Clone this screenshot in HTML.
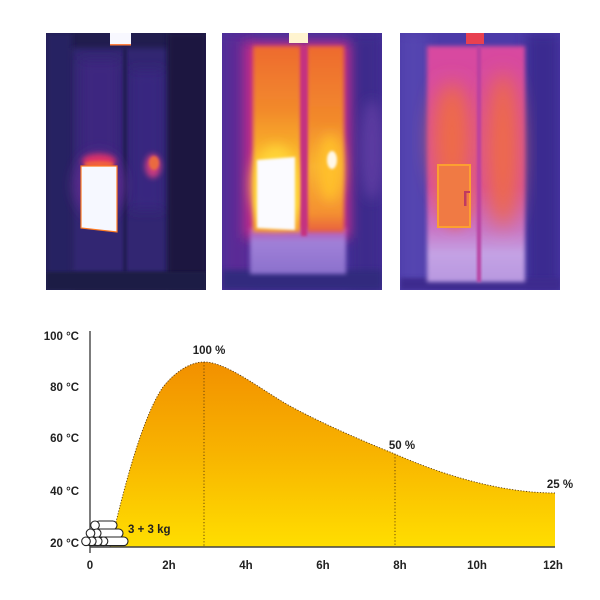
<!DOCTYPE html>
<html><head><meta charset="utf-8"><style>
html,body{margin:0;padding:0;background:#fff;width:600px;height:600px;overflow:hidden}
svg{display:block}
text{font-family:"Liberation Sans",Arial,sans-serif;font-weight:bold;fill:#222;font-size:11.5px}
</style></head><body>
<svg width="600" height="600" viewBox="0 0 600 600" xmlns="http://www.w3.org/2000/svg">
<defs>
  <filter id="b1" x="-50%" y="-50%" width="200%" height="200%"><feGaussianBlur stdDeviation="1.2"/></filter>
  <filter id="b2" x="-50%" y="-50%" width="200%" height="200%"><feGaussianBlur stdDeviation="2"/></filter>
  <filter id="b3" x="-50%" y="-50%" width="200%" height="200%"><feGaussianBlur stdDeviation="3"/></filter>
  <filter id="b6" x="-50%" y="-50%" width="200%" height="200%"><feGaussianBlur stdDeviation="6"/></filter>
  <filter id="b10" x="-50%" y="-50%" width="200%" height="200%"><feGaussianBlur stdDeviation="10"/></filter>
  <clipPath id="c1"><rect x="46" y="33" width="160" height="257"/></clipPath>
  <clipPath id="c2"><rect x="222" y="33" width="160" height="257"/></clipPath>
  <clipPath id="c3"><rect x="400" y="33" width="160" height="257"/></clipPath>
  <linearGradient id="fillg" x1="0" y1="362" x2="0" y2="547" gradientUnits="userSpaceOnUse">
    <stop offset="0" stop-color="#f29000"/>
    <stop offset="0.5" stop-color="#f8b400"/>
    <stop offset="1" stop-color="#ffde00"/>
  </linearGradient>
  <linearGradient id="p2l" x1="0" y1="45" x2="0" y2="232" gradientUnits="userSpaceOnUse">
    <stop offset="0" stop-color="#ee6a30"/>
    <stop offset="0.35" stop-color="#f28a2c"/>
    <stop offset="0.6" stop-color="#fab82c"/>
    <stop offset="0.85" stop-color="#ffd838"/>
    <stop offset="1" stop-color="#f8a030"/>
  </linearGradient>
  <linearGradient id="p2r" x1="0" y1="45" x2="0" y2="232" gradientUnits="userSpaceOnUse">
    <stop offset="0" stop-color="#ee6a30"/>
    <stop offset="0.4" stop-color="#f28a2c"/>
    <stop offset="0.65" stop-color="#f8b030"/>
    <stop offset="0.9" stop-color="#f49030"/>
    <stop offset="1" stop-color="#e86040"/>
  </linearGradient>
  <linearGradient id="p2low" x1="0" y1="228" x2="0" y2="275" gradientUnits="userSpaceOnUse">
    <stop offset="0" stop-color="#c050b0"/>
    <stop offset="0.3" stop-color="#a080d8"/>
    <stop offset="1" stop-color="#8a70cc"/>
  </linearGradient>
  <linearGradient id="p3s" x1="0" y1="46" x2="0" y2="282" gradientUnits="userSpaceOnUse">
    <stop offset="0" stop-color="#d84aa0"/>
    <stop offset="0.6" stop-color="#d64ea4"/>
    <stop offset="0.78" stop-color="#c878c8"/>
    <stop offset="0.88" stop-color="#c4a2e4"/>
    <stop offset="1" stop-color="#b898e0"/>
  </linearGradient>
</defs>

<!-- Panel 1 -->
<g clip-path="url(#c1)">
  <rect x="46" y="33" width="160" height="257" fill="#211d4e"/>
  <rect x="46" y="33" width="26" height="257" fill="#262362" filter="url(#b3)"/>
  <rect x="72" y="48" width="96" height="225" fill="#302672" filter="url(#b3)"/>
  <rect x="80" y="60" width="40" height="120" fill="#3c2880" filter="url(#b6)"/>
  <rect x="130" y="70" width="34" height="140" fill="#382780" filter="url(#b6)"/>
  <rect x="123" y="48" width="4" height="225" fill="#241d54" filter="url(#b1)"/>
  <rect x="168" y="33" width="38" height="257" fill="#1a1840" filter="url(#b3)"/>
  <rect x="46" y="272" width="160" height="18" fill="#1c1a44" filter="url(#b1)"/>
  <ellipse cx="99" cy="185" rx="26" ry="34" fill="#5a2a8c" filter="url(#b6)"/>
  <ellipse cx="99" cy="161" rx="17" ry="7" fill="#e03068" filter="url(#b3)"/>
  <ellipse cx="99" cy="164" rx="15" ry="3" fill="#f06040" filter="url(#b1)"/>
  <ellipse cx="153" cy="166" rx="8" ry="12" fill="#c83a80" filter="url(#b3)"/>
  <ellipse cx="154" cy="163" rx="5" ry="7" fill="#ea6a40" filter="url(#b1)"/>
  <polygon points="81,166 117,166 117,232 81,228" fill="#f6f8ff" stroke="#ff7a20" stroke-width="1.2"/>
  <rect x="110" y="33" width="21" height="12" fill="#f8f8ff"/>
  <rect x="110" y="44" width="21" height="1.5" fill="#ff8040"/>
</g>

<!-- Panel 2 -->
<g clip-path="url(#c2)">
  <rect x="222" y="33" width="160" height="257" fill="#46309a"/>
  <rect x="222" y="33" width="30" height="257" fill="#5a2c96" filter="url(#b6)"/>
  <rect x="350" y="33" width="32" height="257" fill="#3c2c8c" filter="url(#b6)"/>
  <ellipse cx="372" cy="150" rx="12" ry="50" fill="#5c3aa0" filter="url(#b6)"/>
  <rect x="222" y="270" width="160" height="20" fill="#322a7e" filter="url(#b3)"/>
  <rect x="244" y="42" width="106" height="196" fill="#c82a88" filter="url(#b6)"/>
  <rect x="250" y="228" width="96" height="46" fill="url(#p2low)" filter="url(#b2)"/>
  <rect x="253" y="46" width="48" height="186" fill="url(#p2l)" filter="url(#b2)"/>
  <rect x="307" y="46" width="37" height="186" fill="url(#p2r)" filter="url(#b2)"/>
  <ellipse cx="276" cy="185" rx="24" ry="40" fill="#ffd438" filter="url(#b6)"/>
  <ellipse cx="330" cy="168" rx="12" ry="34" fill="#ffc02a" filter="url(#b6)"/>
  <ellipse cx="332" cy="160" rx="5" ry="9" fill="#fff8e8" filter="url(#b1)"/>
  <rect x="301" y="46" width="6" height="190" fill="#c43080" filter="url(#b1)"/>
  <polygon points="257,160 295,157 295,230 257,228" fill="#fbfbff" filter="url(#b1)"/>
  <rect x="289" y="33" width="19" height="10" fill="#fff4d0"/>
</g>

<!-- Panel 3 -->
<g clip-path="url(#c3)">
  <rect x="400" y="33" width="160" height="257" fill="#4c3aa8"/>
  <rect x="400" y="33" width="27" height="257" fill="#5444b0" filter="url(#b6)"/>
  <rect x="526" y="33" width="34" height="257" fill="#3a2a90" filter="url(#b6)"/>
  <rect x="400" y="278" width="160" height="12" fill="#3c2c8e" filter="url(#b2)"/>
  <rect x="427" y="46" width="98" height="236" fill="url(#p3s)" filter="url(#b2)"/>
  <ellipse cx="452" cy="140" rx="20" ry="58" fill="#ee6a48" filter="url(#b10)"/>
  <ellipse cx="503" cy="150" rx="17" ry="78" fill="#ee6a48" filter="url(#b10)"/>
  <ellipse cx="455" cy="200" rx="18" ry="28" fill="#e86a60" filter="url(#b6)"/>
  <rect x="477" y="46" width="4" height="236" fill="#b840a0" filter="url(#b1)"/>
  <rect x="438" y="165" width="32" height="62" fill="#f07a44" stroke="#fca030" stroke-width="2"/>
  <rect x="464" y="191" width="2.5" height="15" fill="#c03a60"/>
  <rect x="464" y="191" width="6" height="2" fill="#c03a60"/>
  <rect x="466" y="33" width="18" height="11" fill="#e84050"/>
</g>

<!-- Chart fill -->
<path d="M110,547 C120,505 140,420 163,387 C175,372 190,362 204,362 C225,362 255,385 283,402 C310,418 360,440 395,454 C440,474 500,493 555,493 L555,547 Z" fill="url(#fillg)"/>
<path d="M110,547 C120,505 140,420 163,387 C175,372 190,362 204,362 C225,362 255,385 283,402 C310,418 360,440 395,454 C440,474 500,493 555,493" fill="none" stroke="#5a3a10" stroke-width="0.9" stroke-dasharray="1.2,1.6"/>
<line x1="204" y1="362" x2="204" y2="547" stroke="#5a3a10" stroke-width="0.9" stroke-dasharray="1.2,2"/>
<line x1="395" y1="454" x2="395" y2="547" stroke="#5a3a10" stroke-width="0.9" stroke-dasharray="1.2,2"/>

<!-- Axes -->
<line x1="90" y1="331" x2="90" y2="553" stroke="#444" stroke-width="1.4"/>
<line x1="90" y1="547" x2="555" y2="547" stroke="#444" stroke-width="1.4"/>

<!-- Logs -->
<g stroke="#222" stroke-width="1.1" fill="#fff">
  <rect x="95" y="521" width="22" height="8.6" rx="4.3"/>
  <rect x="90" y="529" width="33" height="8.6" rx="4.3"/>
  <rect x="86" y="537" width="42" height="8.6" rx="4.3"/>
  <circle cx="95" cy="525.3" r="4.3"/>
  <circle cx="96.7" cy="533.3" r="4.3"/>
  <circle cx="90.5" cy="533.3" r="4.3"/>
  <circle cx="103.5" cy="541.3" r="4.3"/>
  <circle cx="97.7" cy="541.3" r="4.3"/>
  <circle cx="91.8" cy="541.3" r="4.3"/>
  <circle cx="86" cy="541.3" r="4.3"/>
</g>
<text x="128" y="533">3 + 3 kg</text>

<!-- Y labels -->
<text x="79" y="340" text-anchor="end">100 °C</text>
<text x="79" y="391" text-anchor="end">80 °C</text>
<text x="79" y="442" text-anchor="end">60 °C</text>
<text x="79" y="495" text-anchor="end">40 °C</text>
<text x="79" y="547" text-anchor="end">20 °C</text>

<!-- X labels -->
<text x="90" y="569" text-anchor="middle">0</text>
<text x="169" y="569" text-anchor="middle">2h</text>
<text x="246" y="569" text-anchor="middle">4h</text>
<text x="323" y="569" text-anchor="middle">6h</text>
<text x="400" y="569" text-anchor="middle">8h</text>
<text x="477" y="569" text-anchor="middle">10h</text>
<text x="553" y="569" text-anchor="middle">12h</text>

<!-- Percent labels -->
<text x="209" y="354" text-anchor="middle">100 %</text>
<text x="402" y="449" text-anchor="middle">50 %</text>
<text x="560" y="488" text-anchor="middle">25 %</text>
</svg>
</body></html>
